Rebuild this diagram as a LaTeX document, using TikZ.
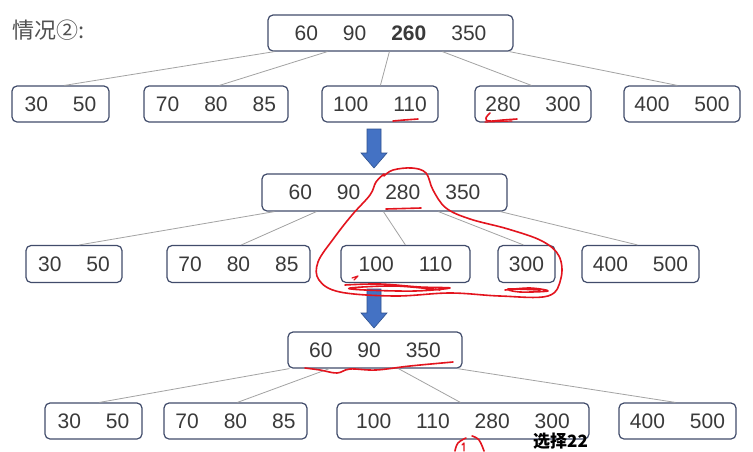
\documentclass[tikz,border=0pt]{standalone}
\usepackage{fontspec}
\setmainfont{Liberation Sans}
\newfontfamily\cjk{Noto Sans CJK SC}
\definecolor{boxc}{HTML}{414C6B}
\definecolor{txt}{HTML}{3A3A3A}
\definecolor{titlec}{HTML}{505050}
\definecolor{edgec}{HTML}{A3A3A3}
\definecolor{arrowblue}{HTML}{4472C4}
\definecolor{arrowedge}{HTML}{2F528F}
\definecolor{ink}{HTML}{E3141E}
\tikzset{
 keybox/.style={draw=boxc, line width=1.2pt, rounded corners=5pt, minimum height=36pt, inner sep=0pt, text=txt, font=\fontsize{21}{21}\selectfont, fill=white},
 link/.style={draw=edgec, line width=0.8pt},
 redink/.style={draw=ink, line width=1.6pt, line cap=round, line join=round},
 bluearrow/.style={fill=arrowblue, draw=arrowedge, line width=0.6pt},
}
\newcommand{\gp}{\hspace{25pt}}
\begin{document}
\begin{tikzpicture}[x=1pt,y=-1pt]
\useasboundingbox (0,0) rectangle (753,451);
\clip (0,0) rectangle (753,451);
\fill[white] (0,0) rectangle (753,451);

\node[anchor=west, text=titlec, font=\cjk\fontsize{22}{22}\selectfont, inner sep=0pt] (title) at (12,30) {情况②:};

% level 1
\node[keybox, minimum width=245pt] (r1) at (390.5,33) {60\gp 90\gp \textbf{260}\gp 350};
\node[keybox, minimum width=97pt] (a1) at (60.5,104) {30\gp 50};
\node[keybox, minimum width=144pt] (a2) at (216,104) {70\gp 80\gp 85};
\node[keybox, minimum width=116pt] (a3) at (380,104) {100\gp 110};
\node[keybox, minimum width=116pt] (a4) at (533,104) {280\gp 300};
\node[keybox, minimum width=116pt] (a5) at (682,104) {400\gp 500};
\draw[link] ([xshift=7pt]r1.south west) -- ([xshift=53pt]a1.north west);
\draw[link] ([xshift=60pt]r1.south west) -- ([xshift=76pt]a2.north west);
\draw[link] ([xshift=122pt]r1.south west) -- ([xshift=59pt]a3.north west);
\draw[link] ([xshift=175pt]r1.south west) -- ([xshift=57pt]a4.north west);
\draw[link] ([xshift=242pt]r1.south west) -- ([xshift=54pt]a5.north west);

% arrow 1
\draw[bluearrow] (367,129) -- (381,129) -- (381,153) -- (387,153) -- (374,168) -- (361,153) -- (367,153) -- cycle;

% level 2
\node[keybox, minimum width=245pt, minimum height=37pt] (r2) at (384.5,192.5) {60\gp 90\gp 280\gp 350};
\node[keybox, minimum width=96pt, minimum height=37pt] (b1) at (74,264) {30\gp 50};
\node[keybox, minimum width=143pt, minimum height=37pt] (b2) at (238.5,264) {70\gp 80\gp 85};
\node[keybox, minimum width=129pt, minimum height=37pt] (b3) at (405.5,264) {100\gp 110};
\node[keybox, minimum width=57pt, minimum height=37pt] (b4) at (526.5,264) {300};
\node[keybox, minimum width=117pt, minimum height=37pt] (b5) at (640.5,264) {400\gp 500};
\draw[link] ([xshift=13pt]r2.south west) -- ([xshift=54pt]b1.north west);
\draw[link] ([xshift=55pt]r2.south west) -- ([xshift=75pt]b2.north west);
\draw[link] ([xshift=122pt]r2.south west) -- ([xshift=65pt]b3.north west);
\draw[link] ([xshift=177pt]r2.south west) -- ([xshift=26pt]b4.north west);
\draw[link] ([xshift=239pt]r2.south west) -- ([xshift=56pt]b5.north west);

% arrow 2
\draw[bluearrow] (367,289) -- (381,289) -- (381,313) -- (387,313) -- (374,328) -- (361,313) -- (367,313) -- cycle;

% level 3
\node[keybox, minimum width=174pt] (r3) at (375,350) {60\gp 90\gp 350};
\node[keybox, minimum width=97pt] (c1) at (93.5,421) {30\gp 50};
\node[keybox, minimum width=143pt] (c2) at (235.5,421) {70\gp 80\gp 85};
\node[keybox, minimum width=252pt] (c3) at (463,421) {100\gp 110\gp 280\gp 300};
\node[keybox, minimum width=117pt] (c4) at (677.5,421) {400\gp 500};
\draw[link] ([xshift=2pt]r3.south west) -- ([xshift=55pt]c1.north west);
\draw[link] ([xshift=42pt]r3.south west) -- ([xshift=74pt]c2.north west);
\draw[link] ([xshift=111pt]r3.south west) -- ([xshift=124pt]c3.north west);
\draw[link] ([xshift=170pt]r3.south west) -- ([xshift=57pt]c4.north west);

% red annotations
\draw[redink] (393,121) -- (404,120) -- (418,119);
\draw[redink] plot[smooth, tension=0.7] coordinates {(490,113) (486,118) (489,121) (503,120) (517,119)};
\draw[redink, line width=1.2pt] (485,122) -- (512,121);
\draw[redink] plot[smooth, tension=0.6] coordinates {(384,174) (376,182) (370,195) (352,215) (334,238) (318,262) (319,280) (340,292) (395,296) (450,293) (500,296) (548,296) (561,278) (559,256) (542,241) (508,229) (470,219) (446,208) (433,190) (426,173) (412,168) (393,170) (384,176)};
\draw[redink] (386,209) -- (421,208);
\draw[redink] plot[smooth, tension=0.6] coordinates {(345,285) (380,284) (420,287) (450,288) (415,291) (365,290) (350,288) (395,286) (440,290)};
\draw[redink] plot[smooth, tension=0.6] coordinates {(505,290) (530,288) (548,291) (520,292) (508,289) (540,290)};
\draw[redink, line width=1.2pt] (352,278) -- (358,276) -- (354,280);
\draw[redink] plot[smooth, tension=0.6] coordinates {(305,368) (320,370) (337,373) (350,369) (376,370) (410,366) (453,362)};
\draw[redink] plot[smooth, tension=0.7] coordinates {(455,451) (458,443) (466,438)};
\draw[redink, line width=1.3pt] (462,445) -- (464,443) -- (464,451);
\draw[redink] plot[smooth, tension=0.7] coordinates {(472,436) (479,440) (484,451)};

\node[anchor=south west, inner sep=0pt, font=\cjk\bfseries\fontsize{17}{17}\selectfont, text=black] (note) at (533,450) {选择22};
\end{tikzpicture}
\end{document}
